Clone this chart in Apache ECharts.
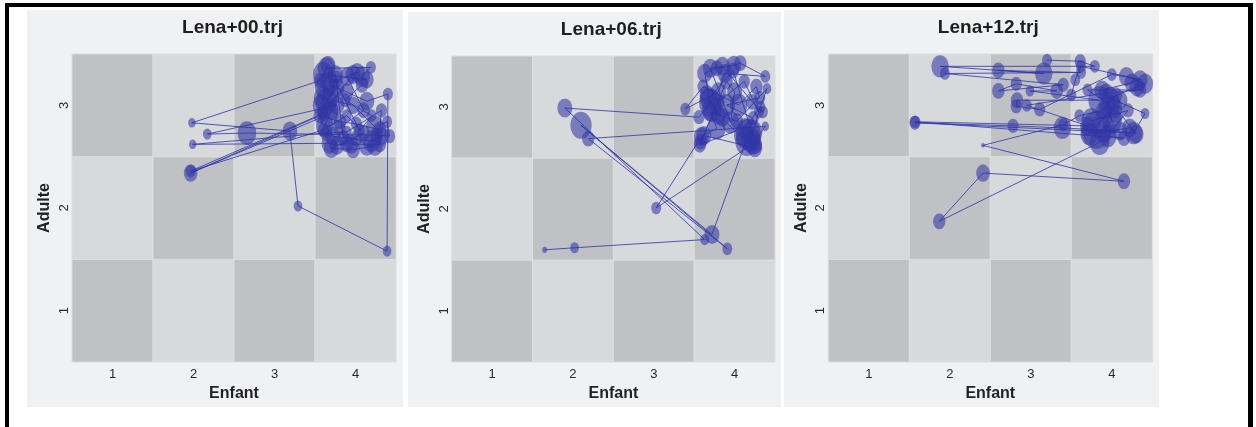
<!DOCTYPE html>
<html><head><meta charset="utf-8">
<script src="https://cdn.jsdelivr.net/npm/echarts@6/dist/echarts.min.js"></script>
<style>
html,body{margin:0;padding:0;background:#fff;overflow:hidden;width:1256px;height:427px}
#frame{position:absolute;left:5px;top:3px;width:1239px;height:500px;border:4px solid #000;border-right-width:5px}
#chart{position:absolute;left:0;top:0;width:1256px;height:427px}
</style></head><body>
<div id="frame"></div>
<div id="chart"></div>
<script>
// ---- data ----
const TITLES = ['Lena+00.trj', 'Lena+06.trj', 'Lena+12.trj'];
const X_NAME = 'Enfant';
const Y_NAME = 'Adulte';
const X_TICKS = [1, 2, 3, 4];
const Y_TICKS = [1, 2, 3];
// trajectory points: [enfant, adulte, poids]
const TRAJ_00 = [
  [3.64,3.36,7],[4.19,3.37,4],[4.08,3.28,6.5],[4.14,3.25,5.5],[3.60,3.30,8],[3.66,3.39,6],
  [3.56,3.24,5],[1.98,2.83,3],[3.19,2.75,6],[3.29,2.02,3.5],[4.39,1.58,3.5],[4.40,3.11,4],
  [4.14,3.04,6],[3.89,3.13,5.5],[3.77,3.17,6],[3.64,3.04,8.5],[3.77,3.00,6],[2.17,2.72,3.5],
  [2.66,2.73,7.5],[4.26,2.71,5],[4.42,2.70,4.5],[4.39,2.84,4],[4.24,2.79,7],[3.97,3.00,5.5],
  [3.60,3.07,7.5],[3.66,2.91,8],[1.965,2.34,5.5],[3.56,2.90,5],[3.81,2.84,5],[4.01,2.82,4.5],
  [4.30,2.76,5.5],[4.32,2.95,4.5],[3.89,2.74,4],[3.64,2.73,5],[1.99,2.62,3],[3.68,2.63,6.5],
  [3.77,2.61,6],[3.89,2.63,5.5],[4.01,2.68,5],[4.14,2.61,6.5],[4.24,2.60,6],[3.97,2.57,5.5],
  [3.70,2.58,6],[4.10,2.73,5],[3.89,2.90,4],[3.60,2.76,4.5],[1.965,2.36,4],[3.60,2.92,4.5],
  [3.97,3.30,6],[4.08,3.20,5],[3.87,3.05,4.5],[4.20,2.90,4],[4.05,2.75,4.5],[3.75,3.25,6],[3.70,3.10,7],
  [3.62,3.18,8],[3.58,3.00,7],[3.70,2.95,6],[3.62,2.80,7],[3.72,2.70,6],[4.20,2.65,7],
  [4.32,2.70,6],[4.30,2.62,5],[3.95,2.62,6],[3.85,2.68,5],[3.75,3.30,6],[3.68,3.22,7],
  [4.02,3.32,6],[3.90,3.28,6],[4.10,2.95,5],[3.80,2.78,5]
];
const TRAJ_06 = [
  [1.65,1.60,2],[2.02,1.62,3.5],[3.63,1.70,3.5],[1.90,2.99,6],[3.56,2.90,4.5],[3.70,3.04,9],
  [3.63,3.33,6],[3.78,3.38,5],[3.99,3.41,6],[4.07,3.43,5],[4.38,3.30,4],[3.88,3.33,6],
  [3.80,3.15,6],[3.39,2.98,4],[3.61,3.20,4.5],[4.05,3.02,7],[4.27,3.20,5],[4.31,3.09,4.5],
  [3.90,3.02,7],[4.23,2.89,4.5],[4.17,2.73,10],[3.72,1.75,6],[2.10,2.82,8.5],[3.91,1.61,4],
  [2.19,2.69,5],[4.38,2.81,3],[4.23,2.64,7],[3.03,2.01,4],[3.59,2.71,6],[3.78,2.79,7],
  [3.70,2.95,6],[4.03,2.86,5],[4.40,3.18,3.5],[4.32,3.00,4],[4.13,2.80,6],[3.57,2.63,5],
  [3.80,3.05,5],[4.12,3.25,4.5],[4.30,2.95,4],[4.20,2.68,8],[4.26,2.62,5],[3.98,3.36,5],
  [3.68,3.08,7],[3.85,2.90,6],
  [3.72,2.98,8],[3.66,3.12,6],[3.80,2.92,6],[4.15,2.66,9],[4.22,2.75,8],[4.10,2.72,7],
  [4.25,2.60,6],[3.62,2.72,6],[3.58,2.66,5],[3.90,3.25,5],[4.00,3.15,6],[3.95,2.85,7],
  [3.70,3.38,6],[3.85,3.40,6],[4.22,3.05,5],[4.35,2.95,4]
];
const TRAJ_12 = [
  [3.20,3.44,4],[3.61,3.43,4.5],[3.79,3.38,4],[1.88,3.38,7],[3.16,3.31,7],[2.60,3.34,5],
  [3.62,3.32,4],[1.94,3.31,4],[3.40,3.20,4.5],[2.60,3.14,5],[2.82,3.21,4.5],[3.32,3.14,5],
  [2.99,3.14,3.5],[3.85,3.05,9],[2.83,3.05,5],[2.82,2.99,4.5],[3.11,2.96,4.5],[4.00,3.30,4],
  [4.18,3.28,6],[4.41,3.21,6.5],[4.31,3.18,6],[3.98,3.07,7],[4.41,2.92,3.5],[4.27,2.73,7],
  [1.57,2.83,4.5],[2.78,2.80,4.5],[3.39,2.78,7],[4.10,2.75,6],[3.81,2.76,12],[3.85,2.64,8],
  [1.87,1.87,5],[2.41,2.34,5.5],[4.15,2.26,5],[2.41,2.61,1.5],[3.40,2.81,4],[3.60,2.90,4],
  [3.90,2.95,6],[4.05,3.10,5],[3.75,2.85,8],[4.20,2.95,4.5],[3.95,2.70,7],[4.15,2.68,5],
  [1.57,2.84,4],[3.70,2.80,6],[2.95,3.00,4],[3.93,3.12,6],[4.35,3.15,5],[3.70,3.15,4],[4.02,2.98,7],
  [3.90,2.78,9],[4.00,2.85,8],[3.95,3.00,7],[4.05,2.92,6],[4.10,3.05,6],[3.72,2.72,7],
  [4.22,2.78,6],[4.30,2.72,6],[3.88,3.15,6],[4.25,3.22,6],[4.35,3.25,6],[3.62,3.38,4],
  [3.55,3.25,4],[3.50,3.10,4]
];
const TRAJS = [TRAJ_00, TRAJ_06, TRAJ_12];

// ---- layout & style ----
const PANELS = [
  {bg: [27, 10, 376, 397], grid: {left: 72, top: 54, width: 324, height: 308}, title: [232.5, 27.5]},
  {bg: [408, 12, 373, 395], grid: {left: 451.7, top: 56, width: 323.3, height: 306}, title: [611.3, 29.8]},
  {bg: [784, 10, 375, 397], grid: {left: 828.3, top: 54, width: 324, height: 308}, title: [988.3, 27.5]}
];
const FONT = '"Liberation Sans", Arial, sans-serif';
const DARK = '#c0c1c4', LIGHT = '#d8d9db', PANEL_BG = '#f0f1f3';
const BUBBLE = 'rgba(52,56,165,0.72)';
const LINE = 'rgba(45,52,170,0.9)';
const ASPECT = 1.27;
const SIZE_K = 2.5;

const cells = [];
X_TICKS.forEach(x => Y_TICKS.forEach(y => cells.push([x, y])));

const grid = [], xAxis = [], yAxis = [], series = [], graphic = [];
PANELS.forEach((p, i) => {
  graphic.push({type: 'rect', z: -10, silent: true,
    shape: {x: p.bg[0], y: p.bg[1], width: p.bg[2], height: p.bg[3]},
    style: {fill: PANEL_BG}});
  graphic.push({type: 'text', z: 10, silent: true, x: p.title[0], y: p.title[1],
    style: {text: TITLES[i], font: 'bold 19px ' + FONT, fill: '#1e1e1e', align: 'center', verticalAlign: 'middle'}});
  grid.push(Object.assign({containLabel: false}, p.grid));
  xAxis.push({type: 'value', gridIndex: i, min: 0.5, max: 4.5,
    name: X_NAME, nameLocation: 'middle', nameGap: 23,
    nameTextStyle: {fontFamily: FONT, fontWeight: 'bold', fontSize: 16, color: '#222'},
    axisLine: {show: false}, axisTick: {show: false}, splitLine: {show: false},
    axisLabel: {customValues: X_TICKS, margin: 6, fontFamily: FONT, fontSize: 13, color: '#2a2a2a'}});
  yAxis.push({type: 'value', gridIndex: i, min: 0.5, max: 3.5,
    name: Y_NAME, nameLocation: 'middle', nameGap: 19,
    nameTextStyle: {fontFamily: FONT, fontWeight: 'bold', fontSize: 16, color: '#222'},
    axisLine: {show: false}, axisTick: {show: false}, splitLine: {show: false},
    axisLabel: {customValues: Y_TICKS, rotate: 90, margin: 1, fontFamily: FONT, fontSize: 13, color: '#2a2a2a'}});
  series.push({type: 'custom', xAxisIndex: i, yAxisIndex: i, z: 1, silent: true, data: cells,
    renderItem: (params, api) => {
      const cx = api.value(0), cy = api.value(1);
      const a = api.coord([cx - 0.5, cy + 0.5]);
      const b = api.coord([cx + 0.5, cy - 0.5]);
      return {type: 'rect', shape: {x: a[0], y: a[1], width: b[0] - a[0], height: b[1] - a[1]},
        style: {fill: (cx + cy) % 2 === 0 ? DARK : LIGHT, stroke: '#dcdddf', lineWidth: 1}};
    }});
  series.push({type: 'scatter', xAxisIndex: i, yAxisIndex: i, z: 3, silent: true, clip: false,
    data: TRAJS[i],
    symbolSize: v => [SIZE_K * v[2], SIZE_K * v[2] * ASPECT],
    itemStyle: {color: BUBBLE}});
  series.push({type: 'line', xAxisIndex: i, yAxisIndex: i, z: 4, silent: true, clip: false,
    data: TRAJS[i].map(d => [d[0], d[1]]), showSymbol: false, symbol: 'none',
    lineStyle: {color: LINE, width: 0.9}});
});

const chart = echarts.init(document.getElementById('chart'), null, {renderer: 'canvas'});
chart.setOption({animation: false, backgroundColor: 'transparent', grid, xAxis, yAxis, series, graphic});
</script>
</body></html>
